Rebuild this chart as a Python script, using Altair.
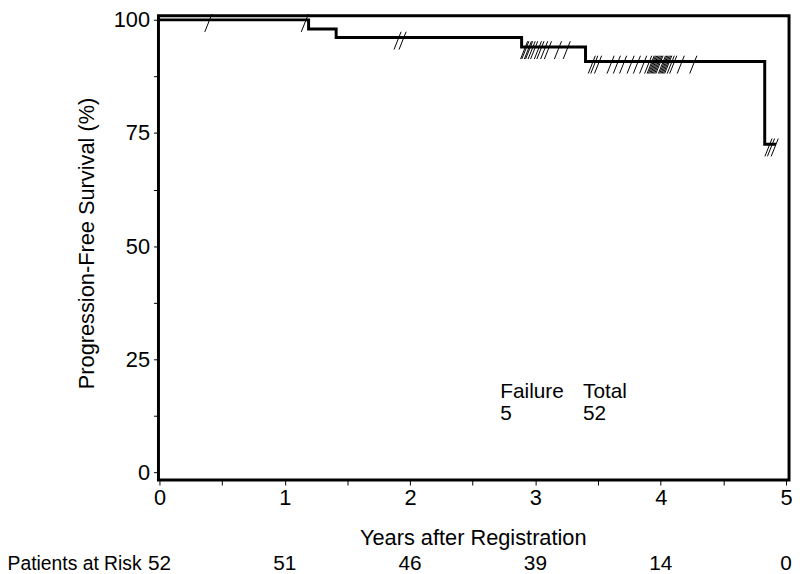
import altair as alt
import pandas as pd

# Kaplan-Meier step curve (years, survival %)
step_times = [0, 1.19, 1.41, 2.89, 3.40, 4.83, 4.92]
step_surv = [100, 98.0, 96.1, 94.0, 90.8, 72.5, 72.5]

# censored observations (years)
censor_times = [0.39, 1.16, 1.90, 1.94,
                2.91, 2.92, 2.94, 2.95, 2.97, 2.99,
                3.02, 3.04, 3.07, 3.10, 3.18, 3.25,
                3.45, 3.47, 3.50, 3.60, 3.65, 3.70, 3.76, 3.81, 3.86,
                3.90, 3.92, 3.93, 3.94, 3.95, 3.96, 3.97, 3.98, 3.99,
                4.01, 4.02, 4.03, 4.04, 4.05, 4.06, 4.08, 4.10, 4.16, 4.26,
                4.86, 4.88, 4.91]

risk_years = [0, 1, 2, 3, 4, 5]
risk_counts = ["52", "51", "46", "39", "14", "0"]

legend_head = ["Failure", "Total"]
legend_vals = ["5", "52"]

x_ticks = [0, 0.5, 1, 1.5, 2, 2.5, 3, 3.5, 4, 4.5, 5]
y_ticks = [0, 12.5, 25, 37.5, 50, 62.5, 75, 87.5, 100]

FONT = "Liberation Sans"
FS = 22


def level_at(t):
    lv = step_surv[0]
    for st, sv in zip(step_times, step_surv):
        if st <= t:
            lv = sv
    return lv


steps = pd.DataFrame({"t": step_times, "s": step_surv})
cens = pd.DataFrame({"t": censor_times, "s": [level_at(t) for t in censor_times]})
risk = pd.DataFrame({"t": risk_years, "n": risk_counts})

xs = alt.Scale(domain=[-0.008, 5.024], nice=False, zero=False)
ys = alt.Scale(domain=[-1.7, 100.9], nice=False, zero=False)

axis_common = dict(grid=False, domain=False, title=None, tickColor="black",
                   tickSize=5, tickWidth=1, labelColor="black",
                   labelFont=FONT, labelFontSize=FS, labelOverlap=False)

xaxis = alt.Axis(values=x_ticks, labelPadding=3, labelFlush=False,
                 labelExpr="datum.value % 1 == 0 ? format(datum.value, 'd') : ''",
                 **axis_common)
yaxis = alt.Axis(values=y_ticks, labelPadding=4,
                 labelExpr="datum.value % 25 == 0 ? format(datum.value, 'd') : ''",
                 **axis_common)

line = alt.Chart(steps).mark_line(
    interpolate="step-after", color="black", strokeWidth=3
).encode(
    x=alt.X("t:Q", scale=xs, axis=xaxis),
    y=alt.Y("s:Q", scale=ys, axis=yaxis),
)

marks = alt.Chart(cens).mark_point(
    shape="M-0.4,1.35L0.4,-0.65", size=324, filled=False,
    color="black", strokeWidth=1, opacity=1
).encode(x=alt.X("t:Q", scale=xs), y=alt.Y("s:Q", scale=ys))

txt_base = dict(font=FONT, fontSize=FS, color="black", baseline="middle")

risk_nums = alt.Chart(risk).mark_text(
    align="center", font=FONT, fontSize=21, color="black", baseline="middle"
).encode(x=alt.X("t:Q", scale=xs), y=alt.value(554), text="n:N")

risk_label = alt.Chart(pd.DataFrame({"l": ["Patients at Risk"]})).mark_text(
    align="right", font=FONT, fontSize=19.5, color="black", baseline="middle"
).encode(x=alt.value(-17), y=alt.value(554), text="l:N")

xtitle = alt.Chart(pd.DataFrame({"l": ["Years after Registration"]})).mark_text(
    align="center", **txt_base
).encode(x=alt.value(318), y=alt.value(528), text="l:N")

ytitle = alt.Chart(pd.DataFrame({"l": ["Progression-Free Survival (%)"]})).mark_text(
    align="center", angle=270, **txt_base
).encode(x=alt.value(-72), y=alt.value(230), text="l:N")

leg_base = dict(font=FONT, fontSize=21, color="black", baseline="middle", align="left")

leg1 = alt.Chart(pd.DataFrame({"l": legend_head, "x": [2.72, 3.38]})).mark_text(
    **leg_base
).encode(x=alt.X("x:Q", scale=xs), y=alt.value(380), text="l:N")

leg2 = alt.Chart(pd.DataFrame({"l": legend_vals, "x": [2.72, 3.38]})).mark_text(
    **leg_base
).encode(x=alt.X("x:Q", scale=xs), y=alt.value(402), text="l:N")

chart = alt.layer(line, marks, risk_nums, risk_label, xtitle, ytitle, leg1, leg2).properties(
    width=637, height=469,
    autosize=alt.AutoSizeParams(type="none"),
    padding={"left": 152, "top": 5, "right": 3, "bottom": 92},
).configure(background="white").configure_view(stroke="black", strokeWidth=3)

chart.save("out.html", embed_options={"renderer": "svg", "actions": False})
